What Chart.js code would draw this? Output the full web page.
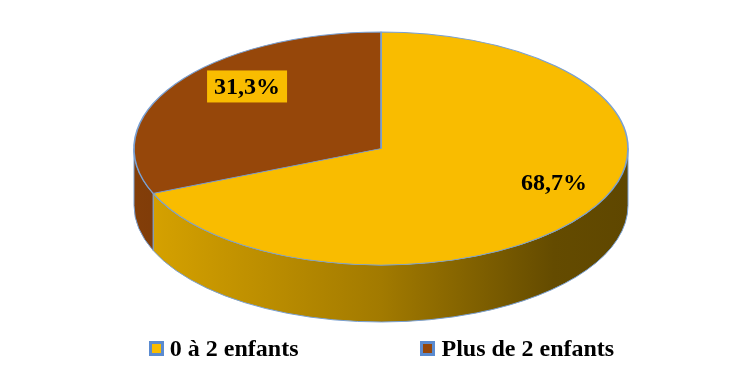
<!DOCTYPE html>
<html>
<head>
<meta charset="utf-8">
<script src="https://cdn.jsdelivr.net/npm/chart.js@4"></script>
<style>
  body { margin: 0; background: #fff; }
  #wrap { position: relative; width: 755px; height: 374px; }
  #legend {
    position: absolute; left: 8px; right: 0; top: 335px;
    display: flex; justify-content: center; gap: 122px;
    font: bold 24px "Liberation Serif", serif; color: #000;
  }
  .item { display: flex; align-items: center; }
  .box { width: 9px; height: 9px; border: 3px solid #5b8bd0; margin-right: 6px; }
</style>
</head>
<body>
<div id="wrap">
  <canvas id="pie"></canvas>
  <div id="legend"></div>
</div>
<script>
const categories = ['0 à 2 enfants', 'Plus de 2 enfants'];
const shares = [68.7, 31.3];
const pctLabels = ['68,7%', '31,3%'];

const colors = ['#f9bc00', '#96470a'];
const labelFills = [null, '#f9bc00'];
const edge = '#7aa0d2';

// flattened 3D look
const RX = 247, RY = 116.5, DEPTH = 57;
const LABEL_R = 0.76, LABEL_WARP = 13 * Math.PI / 180;

function shade(hex, k) {
  const n = parseInt(hex.slice(1), 16);
  const r = Math.round(((n >> 16) & 255) * k);
  const g = Math.round(((n >> 8) & 255) * k);
  const b = Math.round((n & 255) * k);
  return `rgb(${r},${g},${b})`;
}

const tilt3d = {
  id: 'tilt3d',
  beforeDatasetsDraw(chart) {
    const ctx = chart.ctx;
    const meta = chart.getDatasetMeta(0);
    const cx = meta.data[0].x, cy = meta.data[0].y, r = meta.data[0].outerRadius;

    // side walls, front half only
    meta.data.forEach((arc, i) => {
      [0, 2 * Math.PI].forEach(shift => {
        const a1 = Math.max(arc.startAngle, shift);
        const a2 = Math.min(arc.endAngle, shift + Math.PI);
        if (a2 <= a1) return;
        const grad = ctx.createLinearGradient(cx - RX, 0, cx + RX, 0);
        grad.addColorStop(0, shade(colors[i], 0.87));
        grad.addColorStop(0.5, shade(colors[i], 0.65));
        grad.addColorStop(0.85, shade(colors[i], 0.4));
        grad.addColorStop(1, shade(colors[i], 0.38));
        ctx.beginPath();
        ctx.ellipse(cx, cy, RX, RY, 0, a1, a2);
        ctx.ellipse(cx, cy + DEPTH, RX, RY, 0, a2, a1, true);
        ctx.closePath();
        ctx.fillStyle = grad;
        ctx.fill();
        ctx.lineWidth = 1;
        ctx.strokeStyle = edge;
        ctx.stroke();
      });
    });

    ctx.save();
    ctx.translate(cx, cy);
    ctx.scale(RX / r, RY / r);
    ctx.translate(-cx, -cy);
  },
  afterDatasetsDraw(chart) {
    const ctx = chart.ctx;
    ctx.restore();
    const meta = chart.getDatasetMeta(0);
    ctx.font = 'bold 24px "Liberation Serif", serif';
    ctx.textAlign = 'center';
    ctx.textBaseline = 'middle';
    meta.data.forEach((arc, i) => {
      let mid = (arc.startAngle + arc.endAngle) / 2;
      // perspective-ish: push away from the front
      mid -= LABEL_WARP * Math.cos(mid);
      const x = arc.x + Math.cos(mid) * RX * LABEL_R;
      const y = arc.y + Math.sin(mid) * RY * LABEL_R;
      if (labelFills[i]) {
        const w = ctx.measureText(pctLabels[i]).width + 14;
        ctx.fillStyle = labelFills[i];
        ctx.fillRect(x - w / 2, y - 16, w, 32);
      }
      ctx.fillStyle = '#000';
      ctx.fillText(pctLabels[i], x, y + 1);
    });
  }
};

new Chart(document.getElementById('pie'), {
  type: 'pie',
  data: {
    labels: categories,
    datasets: [{
      data: shares,
      backgroundColor: colors,
      borderColor: edge,
      borderWidth: 1,
      clip: false
    }]
  },
  options: {
    responsive: true,
    maintainAspectRatio: false,
    animation: false,
    layout: { padding: { left: 7, right: 0, top: 0, bottom: 77 } },
    plugins: {
      legend: { display: false },
      tooltip: { enabled: false }
    }
  },
  plugins: [tilt3d]
});

const legend = document.getElementById('legend');
categories.forEach((c, i) => {
  const item = document.createElement('div');
  item.className = 'item';
  const box = document.createElement('span');
  box.className = 'box';
  box.style.background = colors[i];
  const txt = document.createElement('span');
  txt.textContent = c;
  item.appendChild(box);
  item.appendChild(txt);
  legend.appendChild(item);
});
</script>
</body>
</html>
